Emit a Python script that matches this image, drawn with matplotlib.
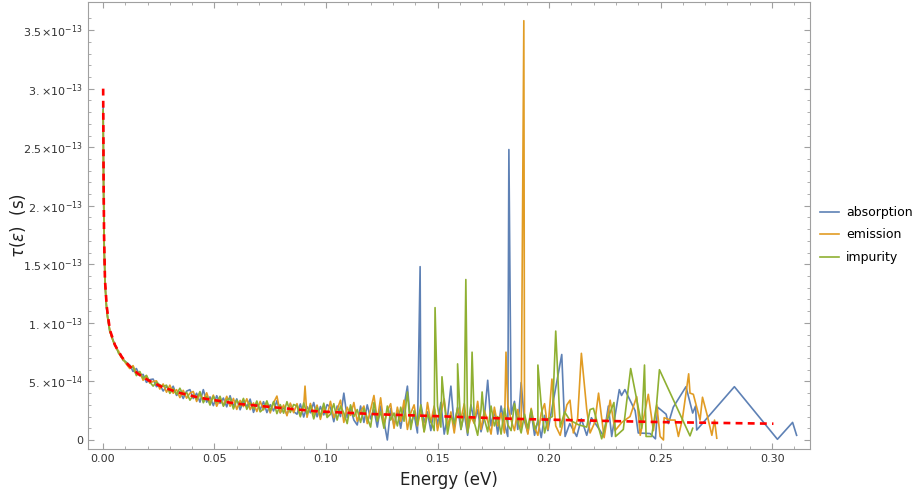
import numpy as np
import matplotlib.pyplot as plt

# all values in units of 1e-14 s
scale = 1e-14

# low energy part (shared energies)
energy_low = [0.0001, 0.0003, 0.0006, 0.001, 0.0015, 0.002, 0.003, 0.004,
              0.005, 0.006, 0.007, 0.008, 0.009, 0.010]
absorption_low = [28.5, 21.0, 16.0, 13.2, 11.6, 10.6, 9.4, 8.8, 8.3, 7.9, 7.5, 7.3, 6.9, 6.7]
emission_low = [28.0, 20.8, 16.2, 13.0, 11.7, 10.5, 9.5, 8.7, 8.3, 7.8, 7.6, 7.1, 7.0, 6.6]
impurity_low = [28.2, 21.2, 15.9, 13.3, 11.5, 10.7, 9.3, 8.8, 8.2, 7.9, 7.4, 7.2, 6.8, 6.7]

# dense part, energies 0.012 ... 0.1995 eV in steps of 0.0015
energy_dense = np.round(0.012 + 0.0015 * np.arange(126), 4)
absorption_dense = [
    6.4, 5.85, 6.1, 5.5, 5.6, 4.92, 5.15, 5.2, 4.55, 4.7,
    4.18, 4.58, 4.18, 4.59, 3.8, 4.12, 3.54, 4.17, 4.3, 3.54,
    3.99, 3.23, 4.3, 3.23, 3.68, 2.93, 3.78, 3.13, 3.58, 2.83,
    3.78, 2.85, 3.51, 2.58, 3.35, 2.82, 3.49, 2.36, 3.13, 2.6,
    3.27, 2.34, 3.01, 2.48, 3.35, 2.32, 2.79, 2.17, 3.05, 2.43,
    2.2, 3.08, 1.96, 2.84, 2.32, 3.2, 1.98, 2.86, 2.14, 3.02,
    2.8, 1.56, 2.9, 2.0, 4.0, 1.9, 2.7, 1.7, 1.28, 2.9,
    1.5, 3.0, 1.8, 2.6, 1.1, 2.9, 1.6, 0.0, 2.7, 1.2,
    2.5, 1.0, 2.9, 4.6, 1.3, 2.2, 0.6, 3.1, 1.5, 2.4,
    0.8, 2.7, 1.3, 3.2, 0.5, 2.0, 4.6, 1.1, 2.8, 0.9,
    2.3, 0.4, 3.0, 1.5, 2.6, 0.7, 1.9, 5.1, 1.2, 2.5,
    0.5, 2.9, 1.4, 0.3, 2.2, 3.3, 0.9, 4.9, 1.6, 0.6,
    2.4, 0.4, 1.7, 0.2, 2.1, 0.8]
emission_dense = [
    6.1, 6.35, 5.7, 5.8, 5.1, 5.47, 4.85, 5.0, 5.05, 4.35,
    4.78, 4.08, 4.68, 3.99, 4.3, 3.62, 4.24, 3.57, 4.0, 4.14,
    3.29, 3.93, 3.38, 4.03, 3.18, 3.83, 2.88, 3.53, 2.98, 3.73,
    2.88, 3.55, 2.61, 3.38, 2.85, 3.52, 2.59, 3.16, 2.43, 3.3,
    2.57, 3.14, 2.31, 3.18, 3.75, 2.32, 2.99, 2.07, 3.15, 2.33,
    3.1, 2.08, 2.86, 1.94, 3.12, 2.2, 2.98, 1.76, 2.84, 2.02,
    3.3, 1.9, 2.6, 3.4, 1.5, 2.8, 2.1, 3.2, 1.6, 2.4,
    2.9, 1.4, 2.6, 3.8, 1.7, 3.6, 1.3, 2.5, 3.1, 1.0,
    2.8, 1.6, 3.4, 0.9, 2.3, 3.0, 1.2, 2.6, 0.7, 3.2,
    1.5, 2.9, 0.8, 2.2, 3.5, 1.1, 2.4, 0.6, 2.7, 1.8,
    3.1, 0.7, 2.0, 1.4, 3.3, 0.9, 2.5, 1.6, 0.5, 2.8,
    1.2, 2.3, 0.6, 3.0, 1.7, 0.8, 2.6, 1.0, 2.0, 0.5,
    2.7, 1.1, 0.4, 2.3, 3.1, 0.9]
impurity_dense = [
    6.3, 6.2, 5.5, 5.85, 5.25, 5.52, 4.95, 4.6, 4.95, 4.7,
    4.58, 4.68, 3.98, 4.39, 3.9, 4.42, 3.84, 4.07, 3.4, 3.84,
    3.49, 4.13, 3.18, 3.73, 2.98, 3.73, 3.18, 3.73, 2.88, 3.43,
    3.58, 2.65, 3.41, 2.88, 3.55, 2.62, 3.19, 2.66, 3.33, 2.4,
    2.67, 3.34, 2.51, 3.28, 2.25, 3.02, 2.29, 3.27, 2.35, 3.03,
    2.9, 1.98, 3.16, 2.24, 2.92, 1.8, 2.78, 2.06, 3.14, 1.92,
    2.2, 3.1, 1.7, 2.9, 2.3, 1.4, 3.0, 2.0, 2.6, 1.5,
    2.7, 1.9, 1.1, 3.2, 1.6, 2.4, 1.0, 2.9, 1.7, 2.3,
    1.2, 2.8, 1.6, 4.1, 0.9, 2.5, 1.3, 3.0, 0.7, 2.2,
    1.6, 0.8, 2.9, 1.1, 3.3, 0.5, 2.1, 1.4, 2.7, 0.9,
    2.4, 0.6, 3.0, 1.5, 0.4, 2.6, 1.8, 0.7, 2.9, 1.2,
    2.0, 0.5, 2.7, 1.3, 0.8, 3.1, 1.6, 0.6, 2.2, 1.0,
    2.6, 0.9, 1.5, 3.0, 0.6, 1.8]

# narrow peaks (energy, value)
absorption_peaks = [(0.1422, 14.8), (0.182, 24.8)]
emission_peaks = [(0.0906, 4.6), (0.1807, 7.5), (0.1887, 35.8)]
impurity_peaks = [(0.1489, 11.3), (0.152, 5.4), (0.159, 6.5), (0.1627, 13.7),
                  (0.1655, 7.5), (0.170, 4.1), (0.195, 6.4)]

# sparse high energy tails (energy, value)
absorption_tail = [
    (0.202, 3.4), (0.2057, 7.3), (0.2072, 0.3), (0.2093, 1.4), (0.2124, 0.3),
    (0.2145, 1.8), (0.2169, 0.4), (0.219, 1.9), (0.2229, 0.8), (0.2245, 0.3),
    (0.2266, 2.9), (0.2281, 0.3), (0.2315, 4.3), (0.2325, 3.8), (0.234, 4.3),
    (0.2386, 2.5), (0.240, 0.6), (0.2453, 0.55), (0.2477, 0.1), (0.2487, 2.8),
    (0.2525, 2.2), (0.2535, 1.4), (0.2557, 2.8), (0.2614, 4.55), (0.2644, 2.3),
    (0.2657, 2.9), (0.2662, 0.85), (0.2831, 4.55), (0.3024, 0.06), (0.3092, 1.5),
    (0.311, 0.4)]
emission_tail = [
    (0.2013, 5.2), (0.203, 1.2), (0.205, 0.4), (0.208, 3.0), (0.2094, 3.4),
    (0.2109, 0.6), (0.2128, 1.8), (0.2145, 7.4), (0.2169, 2.6), (0.2184, 0.6),
    (0.2205, 1.5), (0.2222, 4.0), (0.2247, 0.2), (0.2274, 3.4), (0.2296, 0.8),
    (0.2326, 1.5), (0.2363, 2.0), (0.2393, 3.7), (0.2409, 0.4), (0.2445, 3.9),
    (0.2468, 0.8), (0.2483, 3.0), (0.2498, 0.3), (0.2513, 0.0), (0.2516, 1.9),
    (0.2545, 1.7), (0.2565, 1.7), (0.258, 0.3), (0.2598, 1.8), (0.2626, 5.65),
    (0.2632, 4.0), (0.2647, 3.9), (0.2677, 1.7), (0.2688, 3.65), (0.2708, 2.2),
    (0.273, 0.4), (0.2742, 1.7), (0.2752, 0.15)]
impurity_tail = [
    (0.2015, 2.0), (0.203, 9.3), (0.205, 1.1), (0.207, 2.4), (0.2093, 1.7),
    (0.2132, 1.3), (0.2169, 1.1), (0.2184, 2.6), (0.2199, 2.7), (0.2236, 0.1),
    (0.2255, 1.4), (0.2291, 3.2), (0.2298, 0.3), (0.2333, 0.9), (0.2366, 6.1),
    (0.2408, 2.0), (0.2415, 1.0), (0.2428, 6.4), (0.2435, 0.3), (0.246, 0.3),
    (0.2482, 3.0), (0.2495, 6.0), (0.2632, 0.35), (0.2644, 1.0)]

# fitted curve (dashed red)
fit_energy = [0.0001, 0.0003, 0.0005, 0.0009, 0.0017, 0.0031, 0.0054, 0.0084,
              0.0114, 0.0158, 0.0203, 0.0263, 0.0338, 0.0413, 0.0457, 0.060,
              0.0734, 0.0958, 0.1227, 0.155, 0.1855, 0.22, 0.2497, 0.3006]
fit_tau = [30.0, 22.0, 17.5, 13.7, 11.4, 9.4, 8.1, 7.1, 6.4, 5.64, 5.1, 4.55,
           4.05, 3.7, 3.53, 3.1, 2.85, 2.45, 2.2, 2.0, 1.8, 1.65, 1.53, 1.39]

x_ticks = [0.0, 0.05, 0.10, 0.15, 0.20, 0.25, 0.30]
y_ticks = [0, 5e-14, 1e-13, 1.5e-13, 2e-13, 2.5e-13, 3e-13, 3.5e-13]
y_tick_labels = ["0", r"$5.\!\times\!10^{-14}$", r"$1.\!\times\!10^{-13}$",
                 r"$1.5\!\times\!10^{-13}$", r"$2.\!\times\!10^{-13}$",
                 r"$2.5\!\times\!10^{-13}$", r"$3.\!\times\!10^{-13}$",
                 r"$3.5\!\times\!10^{-13}$"]


def build(low, dense, peaks, tail):
    e = list(energy_low) + list(energy_dense) + [p[0] for p in peaks] + [t[0] for t in tail]
    v = list(low) + list(dense) + [p[1] for p in peaks] + [t[1] for t in tail]
    order = np.argsort(e, kind="stable")
    return np.array(e)[order], np.array(v)[order] * scale


series = [
    ("absorption", "#5e81b5", build(absorption_low, absorption_dense, absorption_peaks, absorption_tail)),
    ("emission", "#e19c24", build(emission_low, emission_dense, emission_peaks, emission_tail)),
    ("impurity", "#8fb032", build(impurity_low, impurity_dense, impurity_peaks, impurity_tail)),
]

fig = plt.figure(figsize=(9.2, 4.93), dpi=100)
ax = fig.add_axes([88 / 920, 44 / 493, 722 / 920, 447 / 493])

for name, color, (e, v) in series:
    ax.plot(e, v, color=color, lw=1.2, label=name)

ax.plot(fit_energy, np.array(fit_tau) * scale, color="red", lw=1.9,
        linestyle=(0, (2.6, 2.0)), zorder=5)

ax.set_xlim(-0.0067, 0.317)
ax.set_ylim(-0.77e-14, 37.4e-14)

ax.set_xticks(x_ticks)
ax.set_xticklabels(["%.2f" % t for t in x_ticks])
ax.set_xticks(np.round(np.arange(0.0, 0.311, 0.01), 2), minor=True)
ax.set_yticks(y_ticks)
ax.set_yticklabels(y_tick_labels)
ax.set_yticks(np.arange(0, 37) * 1e-14, minor=True)

for s in ax.spines.values():
    s.set_color("#a0a0a0")
ax.tick_params(which="both", direction="in", top=True, right=True,
               colors="#a0a0a0", labelcolor="#333333", labelsize=8)
ax.tick_params(which="major", length=4)
ax.tick_params(which="minor", length=2.5)

ax.set_xlabel("Energy (eV)", fontsize=12, color="#222222", labelpad=5)
ax.set_ylabel(r"$\tau(\epsilon)$  (s)", fontsize=12, color="#222222")
ax.yaxis.set_label_coords(-0.083, 0.5)

fig.legend(loc="center left", bbox_to_anchor=(820 / 920, 1 - 235 / 493),
           frameon=False, fontsize=9, handlelength=1.5, handletextpad=0.6,
           labelspacing=0.75, borderpad=0, borderaxespad=0)

fig.savefig("out.png", dpi=100)
